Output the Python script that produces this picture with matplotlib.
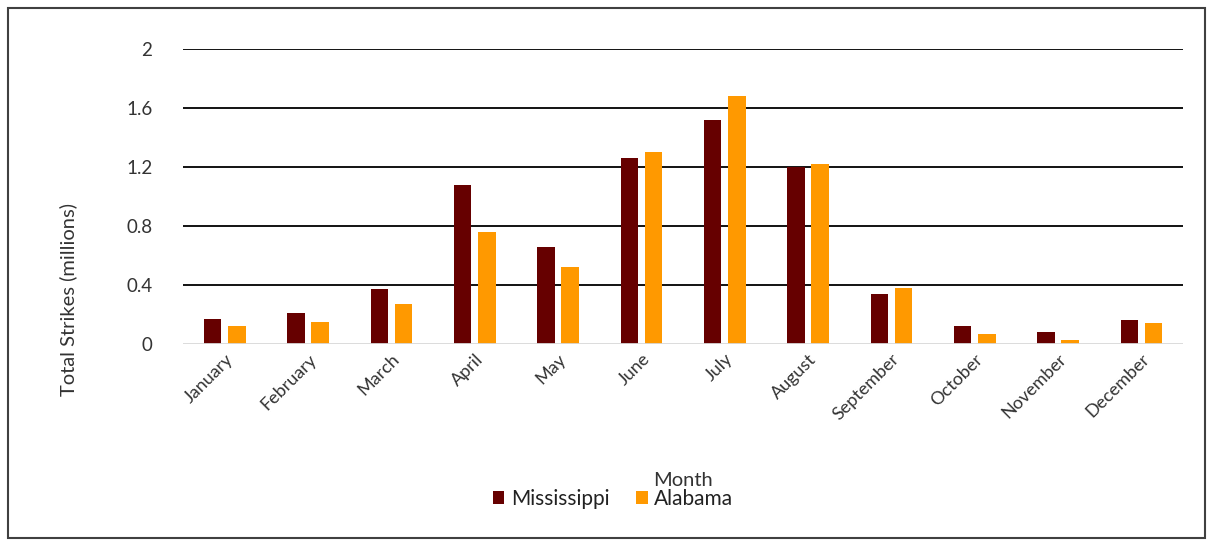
import matplotlib.pyplot as plt
import numpy as np
from matplotlib.patches import Rectangle

# monthly totals (millions of strikes)
months = ['January', 'February', 'March', 'April', 'May', 'June',
          'July', 'August', 'September', 'October', 'November', 'December']
mississippi = [0.17, 0.21, 0.37, 1.08, 0.66, 1.26, 1.52, 1.20, 0.34, 0.12, 0.08, 0.16]
alabama = [0.12, 0.15, 0.27, 0.76, 0.52, 1.30, 1.68, 1.22, 0.38, 0.07, 0.03, 0.14]
y_ticks = [0, 0.4, 0.8, 1.2, 1.6, 2]

plt.rcParams['font.family'] = ['Lato', 'DejaVu Sans']
txt_col = '#333333'

fig = plt.figure(figsize=(12.1, 5.4), dpi=100)
ax = fig.add_axes([183 / 1210, 1 - 344 / 540, 1000 / 1210, 295 / 540])

x = np.arange(len(months))
bar_w = 0.21
ax.bar(x - 0.145, mississippi, width=bar_w, color='#660000', label='Mississippi', zorder=3)
ax.bar(x + 0.145, alabama, width=bar_w, color='#ff9900', label='Alabama', zorder=3)

ax.set_xlim(-0.5, len(months) - 0.5)
ax.set_ylim(0, 2)
ax.set_yticks(y_ticks)
ax.set_yticklabels(['0', '0.4', '0.8', '1.2', '1.6', '2'])
for yv in y_ticks[1:]:
    ax.axhline(yv, color='black', lw=1.3, zorder=1)
ax.axhline(0, color='#d9d9d9', lw=1.3, zorder=4)

for s in ax.spines.values():
    s.set_visible(False)
ax.tick_params(axis='y', length=0, pad=22, labelsize=13.5, labelcolor=txt_col)
ax.tick_params(axis='x', length=0, pad=5, labelsize=13, labelcolor=txt_col)
ax.set_xticks(x)
ax.set_xticklabels(months, rotation=45, ha='right', rotation_mode='anchor')

fig.text(68 / 1210, 1 - 299 / 540, 'Total Strikes (millions)', rotation=90,
         ha='center', va='center', fontsize=14.5, color=txt_col)
fig.text(683 / 1210, 1 - 481 / 540, 'Month', ha='center', va='center',
         fontsize=14.5, color=txt_col)

fig.legend(loc='center', bbox_to_anchor=(613 / 1210, 1 - 499 / 540), ncol=2,
           frameon=False, fontsize=15, handlelength=0.55, handleheight=0.55,
           handletextpad=0.3, columnspacing=1.3, labelcolor='#222222')

# outer chart border
fig.add_artist(Rectangle((8 / 1210, 2 / 540), 1197 / 1210, 530 / 540,
                         transform=fig.transFigure, fill=False,
                         edgecolor='#404040', lw=1.5))

fig.savefig('out.png', dpi=100)
